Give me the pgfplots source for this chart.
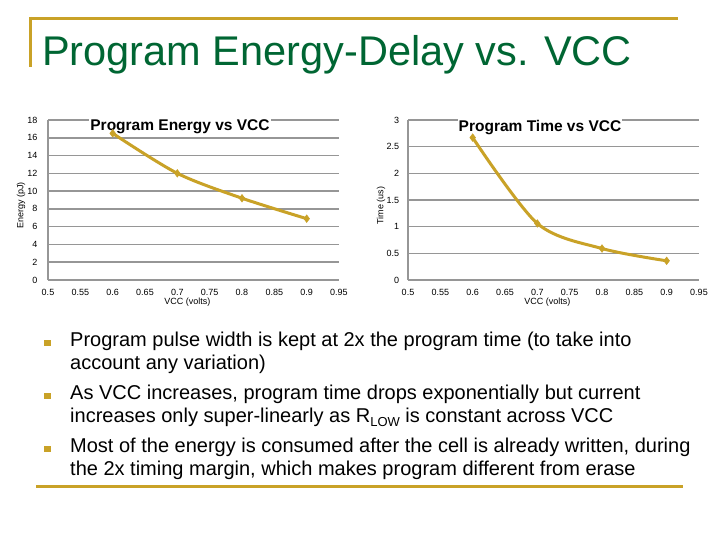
\documentclass[border=0pt]{standalone}
\usepackage{pgfplots}
\pgfplotsset{compat=1.18}
\usepackage{fontspec}
\setmainfont{Liberation Sans}
\definecolor{gold}{RGB}{201,162,39}
\definecolor{ttlgreen}{RGB}{0,102,51}
\definecolor{gridgray}{RGB}{150,150,150}
\newcommand{\bfont}{\fontsize{20}{23}\selectfont}
\newcommand{\tfont}{\fontsize{9}{10}\selectfont}
\pgfplotsset{
  slidechart/.style={
    scale only axis, width=291pt, height=160pt,
    anchor=south west,
    xmin=0.5, xmax=0.95,
    xtick={0.5,0.55,0.6,0.65,0.7,0.75,0.8,0.85,0.9,0.95},
    xticklabels={0.5,0.55,0.6,0.65,0.7,0.75,0.8,0.85,0.9,0.95},
    axis lines=left,
    axis line style={draw=gridgray, line width=1.5pt, -},
    major tick length=0pt,
    ymajorgrids,
    grid style={gridgray, line width=1.5pt},
    /pgf/number format/assume math mode=true,
    tick label style={font=\tfont},
    xticklabel style={inner sep=0pt, yshift=-9.5pt},
    xlabel style={at={(rel axis cs:0.479,0)}, anchor=center, yshift=-22pt, font=\tfont, inner sep=0pt},
    ylabel style={at={(rel axis cs:0,0.466)}, anchor=center, yshift=27pt, font=\tfont, inner sep=0pt},
    clip=false,
  },
  goldline/.style={gold, line width=3pt, smooth, mark=diamond*, mark size=3.8pt, mark options={fill=gold, draw=gold, line width=0.5pt}},
}
\begin{document}
\begin{tikzpicture}[x=1pt,y=1pt]
\useasboundingbox (0,0) rectangle (720,-540);
\fill[white] (0,0) rectangle (720,-540);
% decorative slide lines
\draw[gold, line width=3pt] (29,-18.3) -- (678,-18.3);
\draw[gold, line width=3pt] (30.3,-17) -- (30.3,-67);
\draw[gold, line width=3.5pt] (36,-486.5) -- (683,-486.5);
% slide title
\node[anchor=base west, inner sep=0pt, text=ttlgreen, font=\fontsize{41.5}{45}\selectfont] at (42,-66) {Program Energy-Delay vs. VCC};

% left chart
\begin{axis}[slidechart, at={(48pt,-280pt)},
  ymin=0, ymax=18, ytick={0,2,...,18},
  yticklabel style={inner sep=0pt, xshift=-10.5pt},
  xlabel={VCC (volts)}, ylabel={Energy (pJ)}]
\node[anchor=base, fill=white, inner sep=1pt, font=\fontsize{15.5}{17}\selectfont\bfseries] at (rel axis cs:0.4536,0.93125) {Program Energy vs VCC};
\addplot[goldline] coordinates {(0.6,16.5) (0.7,12.0) (0.8,9.2) (0.9,6.9)};
\end{axis}

% right chart
\begin{axis}[slidechart, at={(408pt,-280pt)},
  ymin=0, ymax=3, ytick={0,0.5,1,1.5,2,2.5,3},
  yticklabels={0,0.5,1,1.5,2,2.5,3},
  yticklabel style={inner sep=0pt, xshift=-8.7pt},
  xlabel={VCC (volts)}, ylabel={Time (us)}]
\node[anchor=base, fill=white, inner sep=1pt, font=\fontsize{15.5}{17}\selectfont\bfseries] at (rel axis cs:0.4536,0.93125) {Program Time vs VCC};
\addplot[goldline] coordinates {(0.6,2.67) (0.7,1.06) (0.8,0.59) (0.9,0.36)};
\end{axis}

% bullets
\foreach \yy in {346,399,452} {
  \node[anchor=base west, inner sep=0pt] at (44,-\yy) {\textcolor{gold}{\rule{6.5pt}{6.5pt}}};
}
\node[anchor=base west, inner sep=0pt, font=\bfont] at (70,-346) {Program pulse width is kept at 2x the program time (to take into};
\node[anchor=base west, inner sep=0pt, font=\bfont] at (70,-369.5) {account any variation)};
\node[anchor=base west, inner sep=0pt, font=\bfont] at (70,-399) {As VCC increases, program time drops exponentially but current};
\node[anchor=base west, inner sep=0pt, font=\bfont] at (70,-422.5) {increases only super-linearly as R\raisebox{-0.35ex}{\fontsize{13}{13}\selectfont LOW} is constant across VCC};
\node[anchor=base west, inner sep=0pt, font=\bfont] at (70,-452) {Most of the energy is consumed after the cell is already written, during};
\node[anchor=base west, inner sep=0pt, font=\bfont] at (70,-475.5) {the 2x timing margin, which makes program different from erase};
\end{tikzpicture}
\end{document}
